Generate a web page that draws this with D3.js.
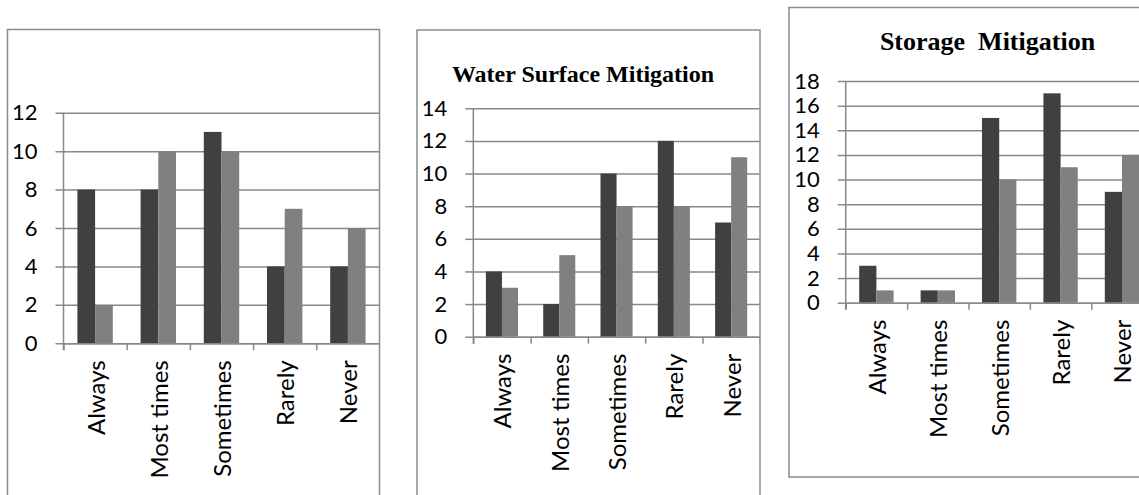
<!DOCTYPE html>
<html>
<head>
<meta charset="utf-8">
<script src="https://cdn.jsdelivr.net/npm/d3@7/dist/d3.min.js"></script>
<style>
  html, body { margin: 0; padding: 0; background: #fff; }
  svg { display: block; }
  .tick-label { font-family: Lato, "Open Sans", sans-serif; fill: #000; }
  .title { font-family: "Liberation Serif", "Times New Roman", serif; font-weight: bold; fill: #000; white-space: pre; }
</style>
</head>
<body>
<svg id="chart" width="1139" height="495"></svg>
<script>
// Response categories shared by all three panels
const categories = ["Always", "Most times", "Sometimes", "Rarely", "Never"];

// Panel 1 (untitled)
const generalDark  = [8, 8, 11, 4, 4];
const generalLight = [2, 10, 10, 7, 6];
const generalTicks = [0, 2, 4, 6, 8, 10, 12];

// Panel 2: Water Surface Mitigation
const waterDark  = [4, 2, 10, 12, 7];
const waterLight = [3, 5, 8, 8, 11];
const waterTicks = [0, 2, 4, 6, 8, 10, 12, 14];

// Panel 3: Storage Mitigation
const storageDark  = [3, 1, 15, 17, 9];
const storageLight = [1, 1, 10, 11, 12];
const storageTicks = [0, 2, 4, 6, 8, 10, 12, 14, 16, 18];

const panelTitles = ["", "Water Surface Mitigation", "Storage  Mitigation"];

const seriesColors = ["#404040", "#808080"];
const gridColor = "#898989";

// Layout of each framed panel and its plot area
const panels = [
  { dark: generalDark, light: generalLight, ticks: generalTicks, title: panelTitles[0],
    frame: { x: 7.5, y: 29.5, w: 372, h: 480 },
    plot: { x: 63.5, top: 112.7, bottom: 343.3, step: 63.2 },
    titleX: 0, titleY: 0, titleSize: 24 },
  { dark: waterDark, light: waterLight, ticks: waterTicks, title: panelTitles[1],
    frame: { x: 417, y: 30, w: 343, h: 480 },
    plot: { x: 473.3, top: 108.3, bottom: 336.7, step: 57.3 },
    titleX: 583, titleY: 82, titleSize: 24 },
  { dark: storageDark, light: storageLight, ticks: storageTicks, title: panelTitles[2],
    frame: { x: 789, y: 7.5, w: 400, h: 469.5 },
    plot: { x: 845.7, top: 81, bottom: 302.7, step: 61.4 },
    titleX: 987.5, titleY: 50, titleSize: 26 }
];

const svg = d3.select("#chart");

panels.forEach((p, i) => {
  const g = svg.append("g");
  const plotW = p.plot.step * categories.length;
  const x0 = p.plot.x, x1 = p.plot.x + plotW;

  const clipId = "clip" + i;
  svg.append("defs").append("clipPath").attr("id", clipId)
    .append("rect")
    .attr("x", p.frame.x).attr("y", p.frame.y)
    .attr("width", p.frame.w).attr("height", p.frame.h);

  const inner = g.append("g").attr("clip-path", `url(#${clipId})`);

  const yMax = d3.max(p.ticks);
  const y = d3.scaleLinear().domain([0, yMax]).range([p.plot.bottom, p.plot.top]);

  const xBand = d3.scaleBand().domain(categories).range([x0, x1])
    .paddingInner(0.44).paddingOuter(0.22);
  const xSeries = d3.scaleBand().domain([0, 1]).range([0, xBand.bandwidth()]);
  const xEdge = d3.scaleLinear().domain([0, categories.length]).range([x0, x1]);

  // horizontal gridlines
  inner.append("g")
    .attr("transform", `translate(${x0},0)`)
    .call(d3.axisLeft(y).tickValues(p.ticks).tickSizeInner(-plotW).tickSizeOuter(0).tickFormat(""))
    .call(a => a.select(".domain").remove())
    .call(a => a.selectAll("line").attr("stroke", gridColor).attr("stroke-width", 1.5));
  // outward ticks and value labels
  inner.append("g")
    .attr("transform", `translate(${x0},0)`)
    .call(d3.axisLeft(y).tickValues(p.ticks).tickSize(8).tickPadding(18).tickFormat(d3.format("d")))
    .call(a => a.select(".domain").remove())
    .call(a => a.selectAll("line").attr("stroke", gridColor).attr("stroke-width", 1.5))
    .call(a => a.selectAll("text").attr("class", "tick-label").attr("font-size", 22)
      .attr("font-family", "Lato, 'Open Sans', sans-serif"));

  // bars
  const rows = categories.map((c, k) => ({ c, v: [p.dark[k], p.light[k]] }));
  inner.append("g").selectAll("g").data(rows).join("g")
    .attr("transform", d => `translate(${xBand(d.c)},0)`)
    .selectAll("rect").data(d => d.v.map((v, s) => ({ v, s }))).join("rect")
    .attr("x", d => xSeries(d.s))
    .attr("width", xSeries.bandwidth())
    .attr("y", d => y(d.v))
    .attr("height", d => y(0) - y(d.v))
    .attr("fill", d => seriesColors[d.s]);

  // vertical axis line
  inner.append("line")
    .attr("x1", x0).attr("x2", x0)
    .attr("y1", y(yMax)).attr("y2", y(0) + 7)
    .attr("stroke", gridColor).attr("stroke-width", 1.5);

  // category boundary ticks below the baseline
  inner.append("g")
    .attr("transform", `translate(0,${y(0)})`)
    .call(d3.axisBottom(xEdge).tickValues(d3.range(categories.length + 1)).tickSize(7).tickSizeOuter(0).tickFormat(""))
    .call(a => a.select(".domain").attr("stroke", gridColor).attr("stroke-width", 1.5))
    .call(a => a.selectAll("line").attr("stroke", gridColor).attr("stroke-width", 1.5));

  // rotated category labels
  inner.append("g")
    .attr("transform", `translate(0,${y(0)})`)
    .call(d3.axisBottom(xBand).tickSize(0).tickPadding(0))
    .call(a => a.select(".domain").remove())
    .call(a => a.selectAll("text")
      .attr("class", "tick-label")
      .attr("font-size", 24)
      .attr("font-family", "Lato, 'Open Sans', sans-serif")
      .attr("text-anchor", "end")
      .attr("y", 0).attr("dy", "0.35em")
      .attr("transform", "translate(1,17) rotate(-90)"));

  // title
  if (p.title) {
    inner.append("text")
      .attr("class", "title")
      .attr("x", p.titleX)
      .attr("y", p.titleY)
      .attr("text-anchor", "middle")
      .attr("font-size", p.titleSize)
      .text(p.title);
  }

  // frame
  g.append("rect")
    .attr("x", p.frame.x).attr("y", p.frame.y)
    .attr("width", p.frame.w).attr("height", p.frame.h)
    .attr("fill", "none").attr("stroke", "#8c8c8c").attr("stroke-width", 1.5);
});
</script>
</body>
</html>
